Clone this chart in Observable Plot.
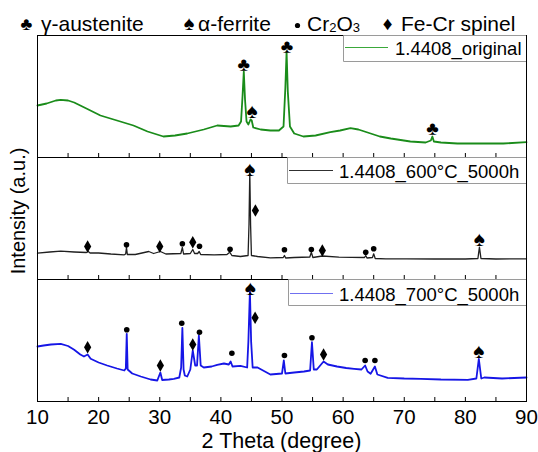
<!DOCTYPE html>
<html><head><meta charset="utf-8">
<script src="https://cdn.jsdelivr.net/npm/d3@7"></script>
<script src="https://cdn.jsdelivr.net/npm/@observablehq/plot@0.6"></script>
<style>
body{margin:0;background:#fff;}
#wrap{position:relative;width:538px;height:452px;}
#wrap svg{position:absolute;left:0;top:0;}
</style></head><body><div id="wrap"></div>
<script>
const samples = ["1.4408_original", "1.4408_600°C_5000h", "1.4408_700°C_5000h"];
const sampleColors = ["#1a8c1a", "#202020", "#1616e6"];
const legendColors = ["#3aa83a", "#303030", "#7070f0"];
const phases = ["γ-austenite", "α-ferrite", "Cr2O3", "Fe-Cr spinel"];
const phaseGlyphs = ["♣", "♠", "●", "♦"];
const xTicks = [10, 20, 30, 40, 50, 60, 70, 80, 90];
const xMinorTicks = [10, 15, 20, 25, 30, 35, 40, 45, 50, 55, 60, 65, 70, 75, 80, 85, 90];

// 1.4408_original
const origTheta = [10,11.5,13,13.8,15,16,18,20.3,23,25.7,28,30.6,32.5,34.5,37.2,39.4,41.6,42.9,43.3,43.55,43.75,43.95,44.2,44.5,44.85,45.05,45.3,46.5,48.1,49.5,50.25,50.55,50.75,50.95,51.3,52,53.5,55.5,57.9,59.5,61.2,62.5,64.5,66,67.8,71,73.5,74.35,74.6,74.85,76,78.7,82,86.2,90];
const origI = [52,54,57,57.7,57,55,49,42,37,32,26,21,22,24,28,32,31,32,36,62,86,58,36,33,38,37,30,28,27,27,31,70,106,66,31,24,21,22,25.3,27,29.3,28,24,21,19,16,15,17,21,16,15,14,14,14,15.3];

// 1.4408_600°C_5000h
const midTheta = [10,12,13.8,16,18,18.3,18.6,20,22,24.2,24.42,24.56,24.7,26,28.2,29,30.1,31,33.45,33.7,33.9,35,35.4,35.7,36.2,36.45,36.7,38.9,41,41.45,41.8,43.2,44.45,44.6,44.73,44.86,45.0,46,48.1,50.2,50.4,50.6,52,54.55,54.8,55.05,56.6,59.3,63.5,63.7,63.9,64.8,65,65.25,67,70.4,75,80,82.05,82.3,82.55,85,90];
const midI = [26.3,27.5,28.3,27.5,27,28,26.5,26.5,25.5,24.7,25.5,32,25,25,28,26,28,25.5,26,32,25.5,26,30,26,26,28,25,24.7,25,27.3,24,23,24,55,108.3,55,24,23,21.7,22,24,21.5,22,22.5,27.3,22,23.5,22.3,22,24,21.5,22,25.7,21,20.7,20.7,20.5,20.5,21,32.3,21,20.5,20.7];

// 1.4408_700°C_5000h
const hotTheta = [10,11,12.2,13.8,15,16,17,17.6,18.2,18.7,20,21.4,23,24.2,24.45,24.6,24.75,25.5,26.9,28.5,29.6,30.1,30.4,31.5,32.3,33.2,33.5,33.7,33.9,34.1,34.5,35.0,35.4,35.8,36.1,36.4,36.7,37.2,38.5,39.4,40.5,41.3,41.6,41.9,43.2,44.3,44.5,44.75,44.95,45.2,46,48.1,50.0,50.3,50.55,52,53.6,54.6,54.9,55.2,55.7,56.8,57.5,59,60.5,61.8,63.0,63.6,64,64.5,65.2,65.6,67.3,70,72.7,76,80.4,81.8,82.2,82.6,83.1,86,90];
const hotI = [55,56,57,57.7,55.5,51.7,47,45,47,42.7,39,36,33,31,33,67.7,32,28,25,22,21,29,21.5,22,22.7,24,34,73.7,32,26,25,32,51,36,36,66,36,34,35,36.7,38,37,40,35,35.7,34,60,110.3,60,34,34,27,28,41,28,29,30,31,59.3,32,32,40,37,35,33.5,32.7,32,36,30,27.7,35,27,23.7,23,22.7,22,21.7,23,42.7,23,24,23,24];

// phase markers: phase index, 2θ, height
const origMarkPhase = [0,1,0,0];
const origMarkTheta = [43.75,45.1,50.8,74.6];
const origMarkI = [93,46,111,29];
const midMarkPhase = [3,2,3,2,3,2,2,1,3,2,2,3,2,2,1];
const midMarkTheta = [18.2,24.56,30.0,33.7,35.4,36.5,41.5,44.75,45.65,50.4,54.8,56.6,63.7,65.0,82.3];
const midMarkI = [33,34.7,33,35.7,37.3,33.3,30.3,110,69,29.7,30,29,27.3,30.7,40];
const hotMarkPhase = [3,2,3,2,3,2,2,1,3,2,2,3,2,2,1];
const hotMarkTheta = [18.2,24.6,30.1,33.6,35.4,36.5,41.8,44.8,45.6,50.4,54.9,56.8,63.6,65.2,82.2];
const hotMarkI = [54.3,71.7,36,78.3,57,69.3,48.3,113,83.7,46,63.7,47,41,41,50.5];

const seriesTheta = [origTheta, midTheta, hotTheta];
const seriesI = [origI, midI, hotI];
const markP = [origMarkPhase, midMarkPhase, hotMarkPhase];
const markT = [origMarkTheta, midMarkTheta, hotMarkTheta];
const markV = [origMarkI, midMarkI, hotMarkI];

const rows = samples.map((s, k) => seriesTheta[k].map((t, i) => ({sample: s, theta: t, I: seriesI[k][i]})));
const markRows = samples.flatMap((s, k) => markP[k].map((p, i) => ({sample: s, phase: phases[p], glyph: phaseGlyphs[p], theta: markT[k][i], I: markV[k][i]})));

const W = 538, H = 452, mL = 37, mR = 12, mT = 35, mB = 51;
const facetH = (H - mT - mB) / 3;
const font = "Liberation Sans, Arial, sans-serif";
const lineWidths = [1.8, 1.3, 1.8];

const plot = Plot.plot({
  width: W, height: H,
  marginLeft: mL, marginRight: mR, marginTop: mT, marginBottom: mB,
  x: {domain: [10, 90]},
  y: {domain: [0, facetH], axis: null},
  fy: {domain: samples, padding: 0, axis: null},
  style: {fontFamily: font, background: "white", color: "black", overflow: "visible"},
  marks: [
    ...samples.map((s, k) => Plot.line(rows[k], {x: "theta", y: "I", fy: "sample", stroke: sampleColors[k], strokeWidth: lineWidths[k], strokeLinejoin: "round"})),
    Plot.tickX(xMinorTicks, {x: d => d, insetTop: facetH - 4, stroke: "black", strokeWidth: 1}),
    Plot.frame({stroke: "black", strokeWidth: 1}),
    Plot.dot(markRows.filter(d => d.phase === "Cr2O3"), {x: "theta", y: "I", fy: "sample", r: 2.8, fill: "black", stroke: null}),
    Plot.dot(markRows.filter(d => d.phase === "Fe-Cr spinel"), {x: "theta", y: "I", fy: "sample", symbol: "diamond", r: 3.8, fill: "black", stroke: null}),
    Plot.text(markRows.filter(d => d.phase === "γ-austenite"), {x: "theta", y: "I", fy: "sample", text: "glyph", fontSize: 19, fill: "black"}),
    Plot.text(markRows.filter(d => d.phase === "α-ferrite"), {x: "theta", y: "I", fy: "sample", text: "glyph", fontSize: 21, fill: "black"}),
    Plot.axisX({ticks: xTicks, tickSize: 0, tickPadding: 8, fontSize: 20.5, label: null, tickFormat: d => String(d)})
  ]
});
const wrap = document.getElementById("wrap");
wrap.appendChild(plot);

// overlay: header, legends, axis titles
const ov = d3.select(wrap).append("svg").attr("width", W).attr("height", H)
  .style("font-family", font).style("pointer-events", "none");

// header
const hdr = ov.append("g").attr("fill", "black");
const hdrItems = [
  {g: phaseGlyphs[0], gx: 26.5, gs: 18, label: phases[0], lx: 41},
  {g: phaseGlyphs[1], gx: 189, gs: 20, label: phases[1], lx: 198},
  {g: null, gx: 297.5, label: null, lx: 307},
  {g: phaseGlyphs[3], gx: 387.5, gs: 19, label: phases[3], lx: 401}
];
hdrItems.forEach((it, i) => {
  if (it.g) hdr.append("text").attr("x", it.gx).attr("y", 30).attr("text-anchor", "middle").attr("font-size", it.gs).text(it.g);
  else hdr.append("circle").attr("cx", it.gx).attr("cy", 25.5).attr("r", 2.6);
  if (it.label) hdr.append("text").attr("x", it.lx).attr("y", 30.5).attr("font-size", 21).text(it.label);
});
const cr = hdr.append("text").attr("x", 307).attr("y", 30.5).attr("font-size", 21);
cr.append("tspan").text("Cr");
cr.append("tspan").attr("font-size", 13).attr("dy", 1).text("2");
cr.append("tspan").attr("dy", -1).text("O");
cr.append("tspan").attr("font-size", 13).attr("dy", 1).text("3");

// legends
const legends = [
  {x0: 343, y0: 35, y1: 61, lx0: 345, lx1: 388, ly: 47.5, tx: 395, ty: 55},
  {x0: 287, y0: 157, y1: 183, lx0: 289, lx1: 333, ly: 170.5, tx: 339, ty: 178},
  {x0: 288, y0: 279, y1: 305, lx0: 290, lx1: 333, ly: 293.5, tx: 339, ty: 301}
];
const xR = W - mR;
legends.forEach((L, k) => {
  const g = ov.append("g");
  g.append("rect").attr("x", L.x0 + 0.5).attr("y", L.y0 + 0.5).attr("width", xR - L.x0 - 1).attr("height", L.y1 - L.y0).attr("fill", "white");
  g.append("path").attr("d", `M${xR},${L.y0 + 0.5}H${L.x0 + 0.5}V${L.y1 + 0.5}H${xR}`).attr("fill", "none").attr("stroke", "#9a9a9a");
  g.append("line").attr("x1", L.lx0).attr("x2", L.lx1).attr("y1", L.ly).attr("y2", L.ly).attr("stroke", legendColors[k]).attr("stroke-width", 1.2);
  g.append("text").attr("x", L.tx).attr("y", L.ty).attr("font-size", 18.5).attr("fill", "black").text(samples[k]);
});

// axis titles
ov.append("text").attr("transform", "translate(25,211) rotate(-90)").attr("text-anchor", "middle").attr("font-size", 20).text("Intensity (a.u.)");
ov.append("text").attr("x", (mL + xR) / 2).attr("y", 448).attr("text-anchor", "middle").attr("font-size", 21.5).text("2 Theta (degree)");
</script></body></html>
